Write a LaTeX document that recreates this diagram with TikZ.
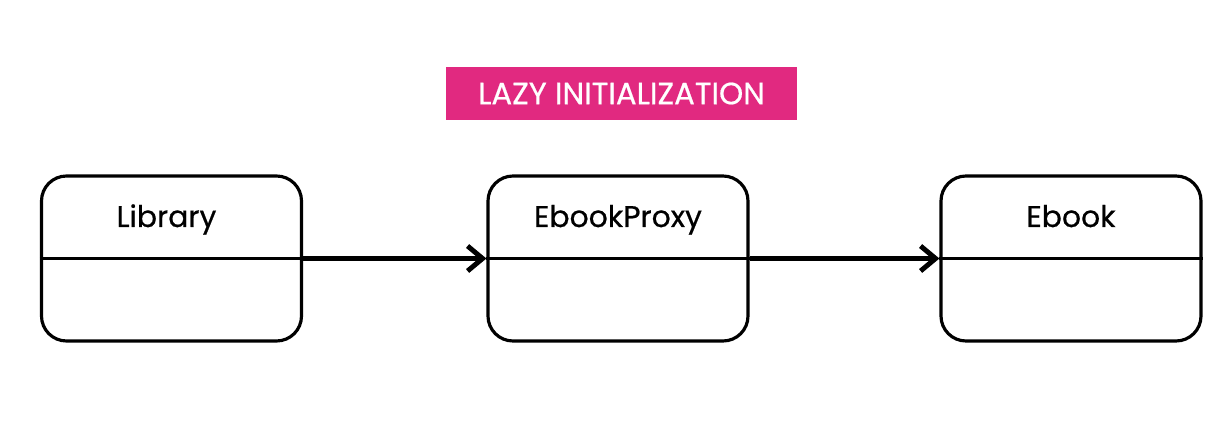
\documentclass[tikz,border=0pt]{standalone}
\usepackage{fontspec}
\setmainfont{Poppins}
\newfontfamily\labelfont[BoldFont={Poppins}, BoldFeatures={FakeBold=0.6}]{Poppins}
\usepackage{tikz}
\usetikzlibrary{arrows.meta, positioning}

\definecolor{titlepink}{RGB}{225,41,128}

\begin{document}
\begin{tikzpicture}[on grid, auto,
    classbox/.style={draw, line width=1.8pt, rounded corners=0.5cm,
        minimum width=5.2cm, minimum height=3.3cm},
    classname/.style={anchor=base, font=\labelfont\bfseries\fontsize{17}{20}\selectfont},
    flow/.style={line width=3.1pt, -{Straight Barb[length=0.3cm, width=0.5cm, line width=2.8pt]}}]

        \useasboundingbox (0,0) rectangle (24.56,-8.72);

        \node[fill=titlepink, text=white, minimum width=7.02cm, minimum height=1.06cm,
              font=\labelfont\bfseries\fontsize{17.5}{20}\selectfont] (title) at (12.43,-1.87) {LAZY INITIALIZATION};

        \node[classbox] (lib) at (3.43,-5.17) {};
        \node[classbox, right=8.93cm of lib] (proxy) {};
        \node[classbox, right=9.06cm of proxy] (ebook) {};

        \node[classname] (libname) at ([xshift=-0.1cm, yshift=0.63cm]lib.center) {Library};
        \node[classname] (proxyname) at ([yshift=0.63cm]proxy.center) {EbookProxy};
        \node[classname] (ebookname) at ([yshift=0.63cm]ebook.center) {Ebook};

        \draw[line width=1.8pt] (lib.west) -- (lib.east);
        \draw[line width=1.8pt] (proxy.west) -- (proxy.east);
        \draw[line width=1.8pt] (ebook.west) -- (ebook.east);

        \draw[flow] (lib.east) -- (proxy.west);
        \draw[flow] (proxy.east) -- (ebook.west);

    \end{tikzpicture}
\end{document}
